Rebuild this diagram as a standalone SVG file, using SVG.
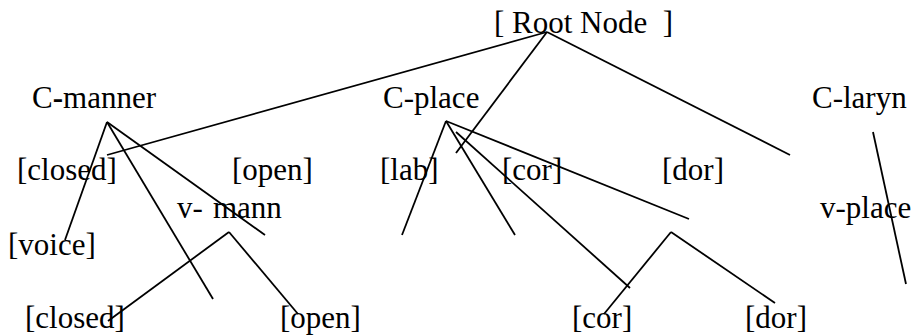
<svg xmlns="http://www.w3.org/2000/svg" width="917" height="336" viewBox="0 0 917 336">
<style>
text{font-family:"Liberation Serif","Times New Roman",serif;font-size:31px;fill:#000;white-space:pre}
line{stroke:#000;stroke-width:1.8;stroke-linecap:butt}
</style>
<rect width="917" height="336" fill="#fff"/>
<g id="connectors">
<line x1="547" y1="32" x2="107" y2="155"/>
<line x1="547" y1="32" x2="456" y2="153"/>
<line x1="547" y1="32" x2="790" y2="155"/>
<line x1="107" y1="122" x2="65" y2="240"/>
<line x1="107" y1="122" x2="213" y2="299"/>
<line x1="107" y1="122" x2="265" y2="235"/>
<line x1="229" y1="232" x2="108" y2="321"/>
<line x1="229" y1="232" x2="298" y2="314"/>
<line x1="446" y1="121" x2="402" y2="235"/>
<line x1="446" y1="121" x2="515" y2="235"/>
<line x1="446" y1="121" x2="689" y2="219"/>
<line x1="456" y1="132" x2="630" y2="288"/>
<line x1="671" y1="232" x2="604" y2="314"/>
<line x1="671" y1="232" x2="775" y2="303"/>
<line x1="873" y1="132" x2="906" y2="284"/>
</g>
<g id="root"><text x="494" y="33">[ Root Node  ]</text></g>
<g id="c-manner"><text x="32" y="108">C<tspan font-weight="bold">-</tspan>manner</text></g>
<g id="c-place"><text x="383" y="108">C-place</text></g>
<g id="c-laryn"><text x="812" y="108">C-laryn</text></g>
<g id="closed1"><text x="17" y="180">[closed]</text></g>
<g id="open1"><text x="232" y="180">[open]</text></g>
<g id="lab"><text x="380" y="180">[lab]</text></g>
<g id="cor1"><text x="502" y="180">[cor]</text></g>
<g id="dor1"><text x="662" y="180">[dor]</text></g>
<g id="v-mann"><text x="177" y="218">v- <tspan x="213">mann</tspan></text></g>
<g id="v-place"><text x="820" y="218">v-place</text></g>
<g id="voice"><text x="8" y="255">[voice]</text></g>
<g id="closed2"><text x="25" y="328">[closed]</text></g>
<g id="open2"><text x="280" y="328">[open]</text></g>
<g id="cor2"><text x="572" y="328">[cor]</text></g>
<g id="dor2"><text x="745" y="328">[dor]</text></g>
</svg>
